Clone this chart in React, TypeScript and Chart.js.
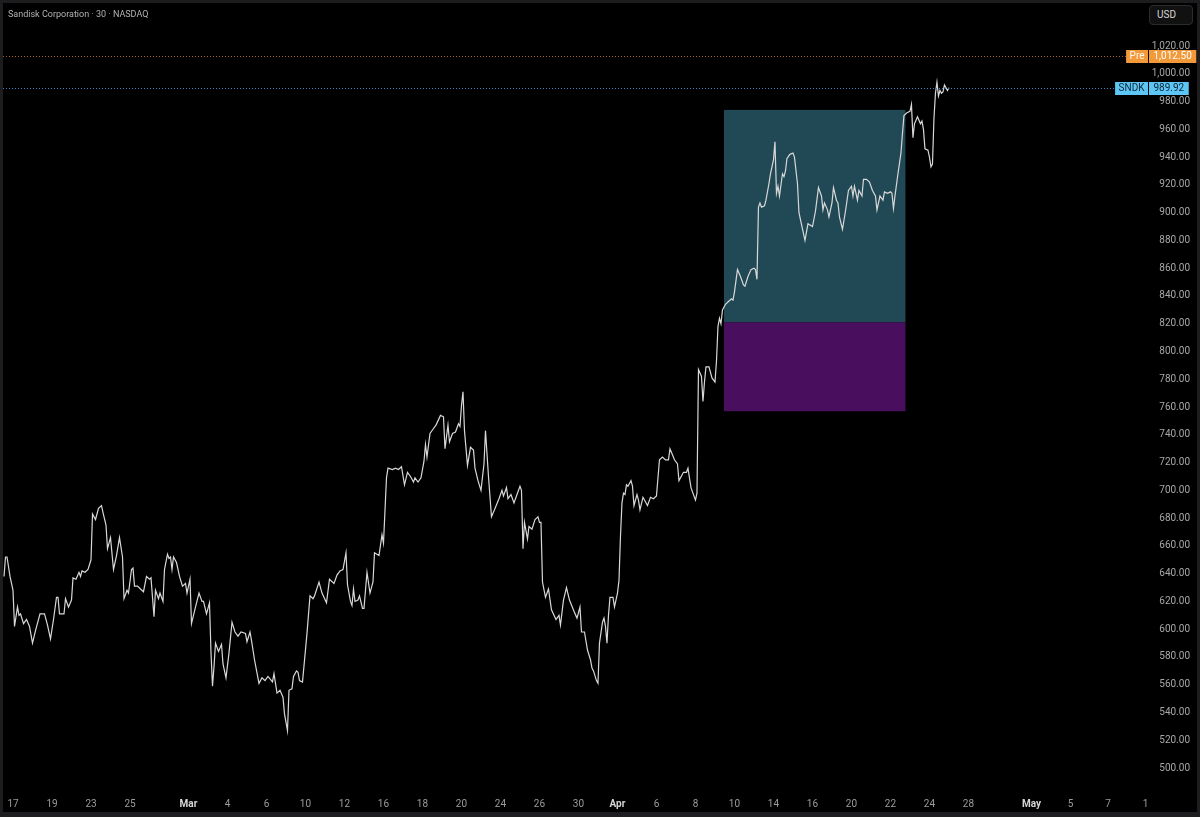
import React, { useEffect, useRef } from "react";
import { Chart, registerables } from "chart.js";

Chart.register(...registerables);

// time axis unit: 30-minute bar index (13 bars per trading day, Feb 17 = 0)
const barIndex = [
  -6, -5, -4, -2, 0, 1, 3, 4, 5, 7, 9, 11, 13, 15, 18, 21, 23, 25, 27, 29, 30, 31, 34, 35, 37, 39, 40, 42, 44, 45, 46, 48, 50, 52, 53, 55, 57, 59, 60, 62, 63, 65, 67, 69, 71, 73, 74, 76, 77, 79, 80, 81, 83, 85, 87, 89, 91, 92, 94, 95, 97, 98, 100, 101, 103, 104, 105, 106, 107, 109, 111, 113, 115, 116, 118, 119, 121, 124, 126, 127, 129, 131, 132, 133, 134, 135, 137, 139, 140, 142, 144, 146, 148, 150, 152, 155, 156, 158, 159, 161, 164, 166, 168, 170, 173, 174, 176, 178, 180, 181, 183, 184, 186, 187, 189, 190,
  191, 193, 196, 198, 200, 201, 204, 206, 209, 211, 214, 216, 218, 220, 222, 223, 225, 226, 227, 228, 230, 231, 233, 234, 236, 238, 240, 241, 244, 246, 247, 249, 250, 253, 255, 257, 259, 261, 263, 265, 267, 268, 270, 272, 274, 275, 276, 278, 280, 282, 285, 287, 288, 290, 291, 293, 295, 297, 298, 299, 300, 301, 303, 305, 307, 308, 310, 312, 314, 315, 317, 319, 321, 324, 326, 327, 329, 330, 332, 334, 336, 338, 339, 340, 341, 343, 344, 346, 348, 350, 351, 352, 353, 355, 357, 359, 362, 364, 365, 367, 369, 371, 374, 376, 378, 379, 381, 383, 385, 386, 387, 389, 390,
  391, 393, 394, 395, 396, 397, 398, 400, 401, 403, 404, 405, 406, 407, 408, 409, 410, 412, 413, 414, 416, 417, 418, 420, 421, 423, 425, 427, 429, 431, 433, 435, 437, 438, 441, 443, 444, 447, 449, 450, 452, 455, 456, 457, 459, 460, 461, 462, 464, 466, 468, 469, 470, 471, 472, 473, 475, 477, 479, 480, 481, 483, 485, 487, 488, 490, 492, 494, 495, 496, 497, 498, 499, 501, 502, 504, 505, 507, 508, 509, 510, 511, 513, 514, 515, 516, 518, 520, 521, 523, 524, 526, 528, 530, 533, 535, 537, 539, 540, 541, 543, 544, 546, 547, 549, 550, 551, 553, 555, 557, 559, 560, 561, 563, 564, 566, 567, 569, 571, 573, 575, 576, 578, 580, 581, 583, 585, 586, 587, 588, 590, 592, 593, 594, 596, 598, 599, 600, 601, 603, 605, 606, 607, 608, 610, 611, 612, 613, 614, 615, 616, 617, 618, 619, 620, 621, 623, 624,
];

const prices = [
  638, 652, 652, 638, 628, 602, 616, 610, 611, 604, 607, 602, 590, 599, 611, 611, 603, 593, 607, 623, 623, 611, 611, 622, 616, 621, 637, 636, 641, 638, 642, 641, 643, 650, 683, 679, 687, 689, 684, 675, 658, 666, 643, 653, 666, 652, 622, 628, 626, 643, 644, 631, 631, 629, 627, 638, 636, 637, 609, 628, 622, 626, 620, 643, 654, 651, 652, 643, 652, 648, 638, 631, 633, 626, 636, 604, 613, 626, 620, 620, 611, 619, 583, 559, 573, 590, 584, 589, 575, 565, 583, 605, 598, 595, 598, 597, 591, 598, 592, 578, 561, 565, 563, 566, 562, 568, 554, 556, 551, 539, 527, 556, 557, 566, 570, 569,
  563, 562, 597, 624, 622, 624, 634, 626, 619, 636, 633, 639, 642, 643, 655, 632, 620, 617, 629, 620, 621, 624, 615, 615, 641, 626, 634, 655, 653, 668, 662, 709, 716, 715, 716, 715, 717, 704, 713, 710, 706, 709, 706, 709, 721, 733, 724, 741, 744, 747, 754, 753, 730, 747, 735, 741, 742, 748, 746, 761, 771, 743, 718, 731, 729, 716, 707, 700, 719, 743, 710, 681, 686, 694, 700, 696, 702, 694, 697, 691, 697, 703, 700, 658, 677, 665, 674, 672, 679, 681, 677, 677, 634, 623, 629, 614, 607, 610, 603, 621, 630, 621, 613, 608, 616, 598, 598, 585, 578, 572, 570, 563, 561,
  590, 605, 608, 602, 590, 610, 623, 623, 616, 626, 635, 667, 691, 698, 697, 704, 703, 707, 703, 689, 697, 693, 686, 695, 693, 689, 695, 694, 696, 722, 724, 722, 722, 730, 722, 719, 707, 713, 713, 716, 702, 693, 698, 787, 782, 764, 778, 789, 789, 781, 778, 793, 818, 824, 820, 830, 834, 836, 838, 837, 843, 859, 854, 848, 847, 854, 859, 860, 859, 852, 904, 907, 904, 905, 909, 921, 928, 938, 951, 914, 919, 912, 928, 926, 930, 939, 942, 943, 940, 921, 900, 890, 880, 892, 890, 901, 918, 912, 902, 907, 902, 897, 907, 918, 909, 907, 897, 888, 901, 916, 919, 912, 919, 909, 916, 912, 924, 924, 922, 916, 912, 902, 912, 909, 915, 914, 915, 914, 903, 912, 928, 943, 957, 970, 972, 973, 978, 954, 964, 969, 964, 966, 960, 946, 945, 940, 933, 935, 968, 986, 994, 984, 988, 986, 987, 992, 988, 989.92,
];

const xTickBars = [0, 26, 52, 78, 117, 143, 169, 195, 221, 247, 273, 299, 325, 351, 377, 403, 429, 455, 481, 507, 533, 559, 585, 611, 637, 679, 705, 730, 755];
const xTickLabels = ["17", "19", "23", "25", "Mar", "4", "6", "10", "12", "16", "18", "20", "24", "26", "30", "Apr", "6", "8", "10", "14", "16", "20", "22", "24", "28", "May", "5", "7", "1"];
const monthLabels = ["Mar", "Apr", "May"];

const yTickValues = [500, 520, 540, 560, 580, 600, 620, 640, 660, 680, 700, 720, 740, 760, 780, 800, 820, 840, 860, 880, 900, 920, 940, 960, 980, 1000, 1020];

const xRange = [-6.67, 756.7];
const yRange = [484.2, 1051];

// long position tool
const positionStartBar = 474;
const positionEndBar = 595;
const positionEntry = 821;
const positionTarget = 974;
const positionStop = 757;

const preMarketPrice = 1012.5;
const lastPrice = 989.92;
const symbol = "SNDK";
const title = "Sandisk Corporation · 30 · NASDAQ";

const FONT = "Roboto, 'Noto Sans', sans-serif";

const fmt = (v: number) =>
  v.toLocaleString("en-US", { minimumFractionDigits: 2, maximumFractionDigits: 2 });

const framePlugin = {
  id: "frame",
  beforeDraw(chart: any) {
    const { ctx, width, height } = chart;
    ctx.save();
    ctx.fillStyle = "#1d1d1f";
    ctx.fillRect(0, 0, width, height);
    ctx.fillStyle = "#000000";
    ctx.fillRect(3, 3, width - 6, height - 8);
    ctx.restore();
  },
};

const positionPlugin = {
  id: "positionTool",
  beforeDatasetsDraw(chart: any) {
    const { ctx, scales } = chart;
    const x = scales.x;
    const y = scales.y;
    const x1 = x.getPixelForValue(positionStartBar);
    const x2 = x.getPixelForValue(positionEndBar);
    const yT = y.getPixelForValue(positionTarget);
    const yE = y.getPixelForValue(positionEntry);
    const yS = y.getPixelForValue(positionStop);
    ctx.save();
    ctx.fillStyle = "#214955";
    ctx.fillRect(x1, yT, x2 - x1, yE - yT);
    ctx.fillStyle = "#4a0e5f";
    ctx.fillRect(x1, yE, x2 - x1, yS - yE);
    ctx.restore();
  },
};

const priceLinePlugin = {
  id: "priceLines",
  afterDatasetsDraw(chart: any) {
    const { ctx, chartArea, scales } = chart;
    const lines = [
      { v: preMarketPrice, c: "#a8621f" },
      { v: lastPrice, c: "#3f86c0" },
    ];
    ctx.save();
    ctx.lineWidth = 1;
    ctx.setLineDash([1, 2]);
    for (const l of lines) {
      const py = Math.round(scales.y.getPixelForValue(l.v)) + 0.5;
      ctx.strokeStyle = l.c;
      ctx.beginPath();
      ctx.moveTo(chartArea.left, py);
      ctx.lineTo(chartArea.right, py);
      ctx.stroke();
    }
    ctx.restore();
  },
  afterDraw(chart: any) {
    const { ctx, chartArea, scales } = chart;
    const tags = [
      { v: preMarketPrice, tag: "Pre", bg: "#f2993a", fg: "#fff6ea", vfg: "#ffffff" },
      { v: lastPrice, tag: symbol, bg: "#5ec6f4", fg: "#0b2536", vfg: "#0b2536" },
    ];
    ctx.save();
    ctx.font = `10px ${FONT}`;
    ctx.textBaseline = "middle";
    for (const t of tags) {
      const py = Math.round(scales.y.getPixelForValue(t.v));
      const h = 13;
      const top = py - 6;
      const valText = fmt(t.v);
      const vw = ctx.measureText(valText).width + 9;
      const vx = chartArea.right + 1;
      ctx.fillStyle = t.bg;
      ctx.fillRect(vx, top, vw, h);
      ctx.fillStyle = t.vfg;
      ctx.textAlign = "left";
      ctx.fillText(valText, vx + 4.5, py + 0.5);
      const tw = ctx.measureText(t.tag).width + 7;
      const tx = chartArea.right - tw;
      ctx.fillStyle = t.bg;
      ctx.fillRect(tx, top, tw, h);
      ctx.fillStyle = t.fg;
      ctx.fillText(t.tag, tx + 3.5, py + 0.5);
    }
    ctx.restore();
  },
};

export default function App() {
  const canvasRef = useRef<HTMLCanvasElement | null>(null);

  useEffect(() => {
    document.body.style.margin = "0";
    document.body.style.background = "#000";
    const canvas = canvasRef.current;
    if (!canvas) return;
    const points = barIndex.map((b, i) => ({ x: b, y: prices[i] }));
    const chart = new Chart(canvas, {
      type: "line",
      data: {
        datasets: [
          {
            data: points,
            borderColor: "#d8d8d8",
            borderWidth: 1.2,
            pointRadius: 0,
            tension: 0,
            fill: false,
          },
        ],
      },
      options: {
        animation: false,
        responsive: false,
        maintainAspectRatio: false,
        parsing: false as any,
        layout: { padding: { left: 3, top: 3, right: 10, bottom: 5 } },
        plugins: {
          legend: { display: false },
          tooltip: { enabled: false },
          title: { display: false },
        },
        scales: {
          x: {
            type: "linear",
            min: xRange[0],
            max: xRange[1],
            grid: { display: false, drawTicks: false },
            border: { display: false },
            afterBuildTicks: (s: any) => {
              s.ticks = xTickBars.map((v) => ({ value: v }));
            },
            afterFit: (s: any) => {
              s.height = 22;
              s.paddingLeft = 0;
              s.paddingRight = 0;
            },
            ticks: {
              autoSkip: false,
              maxRotation: 0,
              minRotation: 0,
              padding: 8,
              color: (c: any) => (monthLabels.includes(xTickLabels[c.index]) ? "#d6d6d6" : "#9c9c9c"),
              font: (c: any) => ({
                family: FONT,
                size: 10,
                weight: monthLabels.includes(xTickLabels[c.index]) ? "bold" : "normal",
              }),
              callback: (_v: any, i: number) => xTickLabels[i],
            },
          },
          y: {
            type: "linear",
            position: "right",
            min: yRange[0],
            max: yRange[1],
            grid: { display: false, drawTicks: false },
            border: { display: false },
            afterBuildTicks: (s: any) => {
              s.ticks = yTickValues.map((v) => ({ value: v }));
            },
            afterFit: (s: any) => {
              s.width = 42;
              s.paddingTop = 0;
              s.paddingBottom = 0;
            },
            ticks: {
              crossAlign: "far",
              padding: 2,
              color: "#a8a8a8",
              font: { family: FONT, size: 10 },
              callback: (v: any) => fmt(Number(v)),
            },
          },
        },
      },
      plugins: [framePlugin, positionPlugin, priceLinePlugin],
    } as any);
    return () => chart.destroy();
  }, []);

  return (
    <div style={{ position: "fixed", left: 0, top: 0, width: 1200, height: 817, background: "#000" }}>
      <canvas ref={canvasRef} width={1200} height={817} style={{ width: 1200, height: 817, display: "block" }} />
      <div
        style={{
          position: "absolute",
          left: 8,
          top: 9,
          fontFamily: FONT,
          fontSize: 9,
          color: "#b4b4b4",
          whiteSpace: "nowrap",
        }}
      >
        {title}
      </div>
      <div
        style={{
          position: "absolute",
          left: 1149,
          top: 5,
          width: 44,
          height: 20,
          boxSizing: "border-box",
          border: "1px solid #2c2c2c",
          borderRadius: 4,
          background: "#111",
          color: "#d8d8d8",
          fontFamily: FONT,
          fontSize: 10,
          lineHeight: "18px",
          paddingLeft: 7,
        }}
      >
        USD
      </div>
    </div>
  );
}
